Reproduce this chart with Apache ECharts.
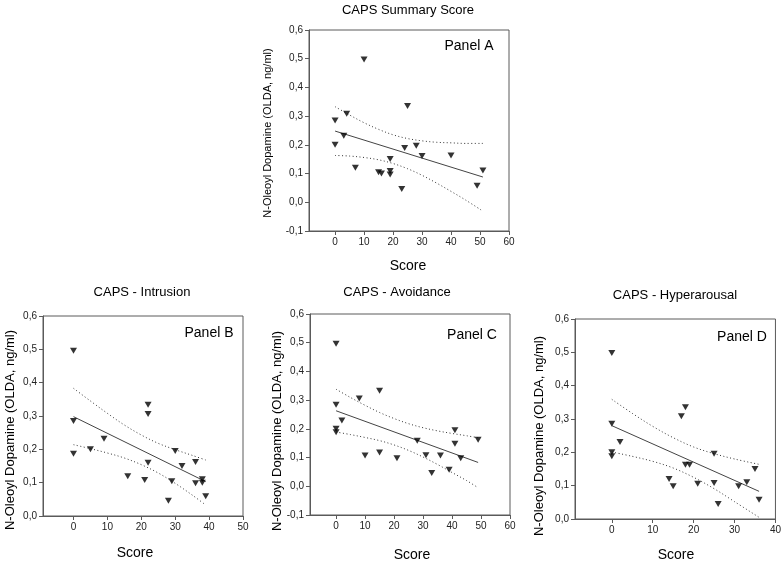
<!DOCTYPE html>
<html>
<head>
<meta charset="utf-8">
<script src="https://cdn.jsdelivr.net/npm/echarts@6/dist/echarts.min.js"></script>
<style>
html,body{margin:0;padding:0;background:#fff;}
#chart{width:784px;height:563px;}
</style>
</head>
<body>
<div id="chart"></div>
<script>
// ---------- Data ----------
const panelTitles = ['CAPS Summary Score', 'CAPS - Intrusion', 'CAPS - Avoidance', 'CAPS - Hyperarousal'];
const panelNames = ['Panel A', 'Panel B', 'Panel C', 'Panel D'];
const xAxisTitle = 'Score';
const yAxisTitle = 'N-Oleoyl Dopamine (OLDA, ng/ml)';

const xTicksA = [0, 10, 20, 30, 40, 50, 60];
const xTicksB = [0, 10, 20, 30, 40, 50];
const xTicksC = [0, 10, 20, 30, 40, 50, 60];
const xTicksD = [0, 10, 20, 30, 40];
const yTicksA = [-0.1, 0, 0.1, 0.2, 0.3, 0.4, 0.5, 0.6];
const yTicksB = [0, 0.1, 0.2, 0.3, 0.4, 0.5, 0.6];
const yTicksC = [-0.1, 0, 0.1, 0.2, 0.3, 0.4, 0.5, 0.6];
const yTicksD = [0, 0.1, 0.2, 0.3, 0.4, 0.5, 0.6];

// Panel A
const scoreA = [0, 0, 3, 4, 10, 7, 15, 16, 19, 19, 19, 23, 24, 25, 28, 30, 40, 49, 51];
const oldaA  = [0.285, 0.200, 0.232, 0.308, 0.497, 0.120, 0.105, 0.100, 0.151, 0.109, 0.097, 0.046, 0.189, 0.335, 0.197, 0.161, 0.163, 0.058, 0.111];
const fitXA = [0, 51];
const fitYA = [0.248, 0.088];
const bandXA  = [0, 5, 10, 15, 20, 25, 30, 35, 40, 45, 51];
const bandUpA = [0.333, 0.304, 0.277, 0.254, 0.235, 0.222, 0.214, 0.209, 0.207, 0.205, 0.205];
const bandLoA = [0.163, 0.161, 0.156, 0.148, 0.135, 0.117, 0.094, 0.067, 0.038, 0.008, -0.031];

// Panel B
const scoreB = [0, 0, 0, 5, 9, 16, 21, 22, 22, 22, 28, 29, 30, 32, 36, 36, 38, 38, 39];
const oldaB  = [0.496, 0.285, 0.187, 0.200, 0.232, 0.119, 0.108, 0.334, 0.306, 0.160, 0.046, 0.104, 0.195, 0.150, 0.162, 0.098, 0.110, 0.100, 0.059];
const fitXB = [0, 39];
const fitYB = [0.298, 0.103];
const bandXB  = [0, 5, 10, 15, 20, 25, 30, 35, 39];
const bandUpB = [0.383, 0.345, 0.308, 0.273, 0.243, 0.218, 0.199, 0.182, 0.168];
const bandLoB = [0.214, 0.202, 0.189, 0.174, 0.154, 0.129, 0.098, 0.063, 0.033];

// Panel C
const scoreC = [0, 0, 0, 0, 2, 8, 10, 15, 15, 21, 28, 31, 33, 36, 39, 41, 41, 43, 49];
const oldaC  = [0.496, 0.284, 0.200, 0.188, 0.229, 0.306, 0.107, 0.333, 0.118, 0.098, 0.159, 0.108, 0.046, 0.107, 0.058, 0.195, 0.148, 0.098, 0.162];
const fitXC = [0, 49];
const fitYC = [0.263, 0.083];
const bandXC  = [0, 5, 10, 15, 20, 25, 30, 35, 40, 45, 49];
const bandUpC = [0.338, 0.309, 0.282, 0.257, 0.236, 0.218, 0.204, 0.193, 0.184, 0.176, 0.169];
const bandLoC = [0.189, 0.180, 0.170, 0.159, 0.144, 0.125, 0.102, 0.076, 0.048, 0.020, -0.005];

// Panel D
const scoreD = [0, 0, 0, 0, 2, 14, 15, 17, 18, 18, 19, 21, 25, 25, 26, 31, 33, 35, 36];
const oldaD  = [0.498, 0.286, 0.200, 0.188, 0.231, 0.120, 0.098, 0.308, 0.335, 0.163, 0.163, 0.106, 0.196, 0.108, 0.045, 0.098, 0.110, 0.150, 0.058];
const fitXD = [0, 36];
const fitYD = [0.280, 0.083];
const bandXD  = [0, 5, 10, 15, 20, 25, 30, 36];
const bandUpD = [0.359, 0.317, 0.278, 0.244, 0.216, 0.196, 0.180, 0.164];
const bandLoD = [0.201, 0.188, 0.173, 0.153, 0.125, 0.091, 0.052, 0.005];

// ---------- Layout (positions / styles only) ----------
const layout = [
  {grid:{left:309, top:30, width:200, height:201}, xMin:-9, xMax:60, yMin:-0.1, yMax:0.6,
   title:[408, 10], panel:[469, 46], score:[408, 266], ylab:[268, 133], ylabSize:11},
  {grid:{left:43, top:316, width:200, height:200}, xMin:-9, xMax:50, yMin:0, yMax:0.6,
   title:[142, 292], panel:[209, 333], score:[135, 553], ylab:[10, 430], ylabSize:13},
  {grid:{left:310, top:314, width:200, height:201}, xMin:-9, xMax:60, yMin:-0.1, yMax:0.6,
   title:[397, 292], panel:[472, 335], score:[412, 555], ylab:[277, 431], ylabSize:13},
  {grid:{left:575, top:319, width:201, height:200}, xMin:-9, xMax:40, yMin:0, yMax:0.6,
   title:[675, 295], panel:[742, 337], score:[676, 555], ylab:[539, 436], ylabSize:13}
];

const panelsData = [
  {sx:scoreA, sy:oldaA, fx:fitXA, fy:fitYA, bx:bandXA, bu:bandUpA, bl:bandLoA, xt:xTicksA, yt:yTicksA},
  {sx:scoreB, sy:oldaB, fx:fitXB, fy:fitYB, bx:bandXB, bu:bandUpB, bl:bandLoB, xt:xTicksB, yt:yTicksB},
  {sx:scoreC, sy:oldaC, fx:fitXC, fy:fitYC, bx:bandXC, bu:bandUpC, bl:bandLoC, xt:xTicksC, yt:yTicksC},
  {sx:scoreD, sy:oldaD, fx:fitXD, fy:fitYD, bx:bandXD, bu:bandUpD, bl:bandLoD, xt:xTicksD, yt:yTicksD}
];

const FONT = 'Liberation Sans, Arial, sans-serif';
const AX = '#5a5a5a';
const zip = (a, b) => a.map((v, i) => [v, b[i]]);
const fmtY = v => (Math.round(v * 10) / 10).toFixed(1).replace('.', ',');

const grids = [], xAxes = [], yAxes = [], series = [], graphics = [];

layout.forEach((L, i) => {
  const D = panelsData[i];
  grids.push(Object.assign({show:true, borderColor:AX, borderWidth:1, backgroundColor:'transparent'}, L.grid));
  xAxes.push({
    type:'value', gridIndex:i, min:L.xMin, max:L.xMax,
    axisLine:{show:true, onZero:false, lineStyle:{color:AX, width:1}},
    axisTick:{show:true, length:4, inside:false, customValues:D.xt, lineStyle:{color:AX}},
    axisLabel:{show:true, customValues:D.xt, margin:6, fontSize:10, fontFamily:FONT, color:'#222',
               formatter:v => String(v)},
    splitLine:{show:false}
  });
  yAxes.push({
    type:'value', gridIndex:i, min:L.yMin, max:L.yMax,
    axisLine:{show:true, onZero:false, lineStyle:{color:AX, width:1}},
    axisTick:{show:true, length:4, inside:false, customValues:D.yt, lineStyle:{color:AX}},
    axisLabel:{show:true, customValues:D.yt, margin:6, fontSize:10, fontFamily:FONT, color:'#222',
               formatter:fmtY},
    splitLine:{show:false}
  });
  const lineBase = {type:'line', xAxisIndex:i, yAxisIndex:i, symbol:'none', showSymbol:false,
                    silent:true, z:2};
  series.push(Object.assign({}, lineBase, {data:zip(D.bx, D.bu), smooth:0.35,
    lineStyle:{color:'#333', width:1, type:[1, 2.5]}}));
  series.push(Object.assign({}, lineBase, {data:zip(D.bx, D.bl), smooth:0.35,
    lineStyle:{color:'#333', width:1, type:[1, 2.5]}}));
  series.push(Object.assign({}, lineBase, {data:zip(D.fx, D.fy),
    lineStyle:{color:'#444', width:1, type:'solid'}}));
  series.push({type:'scatter', xAxisIndex:i, yAxisIndex:i, data:zip(D.sx, D.sy),
    symbol:'triangle', symbolRotate:180, symbolSize:[7, 6], z:5,
    itemStyle:{color:'#000'}});

  graphics.push({type:'text', x:L.title[0], y:L.title[1],
    style:{text:panelTitles[i], fontSize:13, fontFamily:FONT, fill:'#000', align:'center', verticalAlign:'middle'}});
  graphics.push({type:'text', x:L.panel[0], y:L.panel[1],
    style:{text:panelNames[i], fontSize:14, fontFamily:FONT, fill:'#000', align:'center', verticalAlign:'middle'}});
  graphics.push({type:'text', x:L.score[0], y:L.score[1],
    style:{text:xAxisTitle, fontSize:14, fontFamily:FONT, fill:'#000', align:'center', verticalAlign:'middle'}});
  graphics.push({type:'text', x:L.ylab[0], y:L.ylab[1], rotation:Math.PI / 2,
    style:{text:yAxisTitle, fontSize:L.ylabSize, fontFamily:FONT, fill:'#000', align:'center', verticalAlign:'middle'}});
});

const chart = echarts.init(document.getElementById('chart'), null, {renderer:'canvas'});
chart.setOption({
  animation:false,
  backgroundColor:'#fff',
  grid:grids, xAxis:xAxes, yAxis:yAxes, series:series,
  graphic:{elements:graphics}
});
</script>
</body>
</html>
